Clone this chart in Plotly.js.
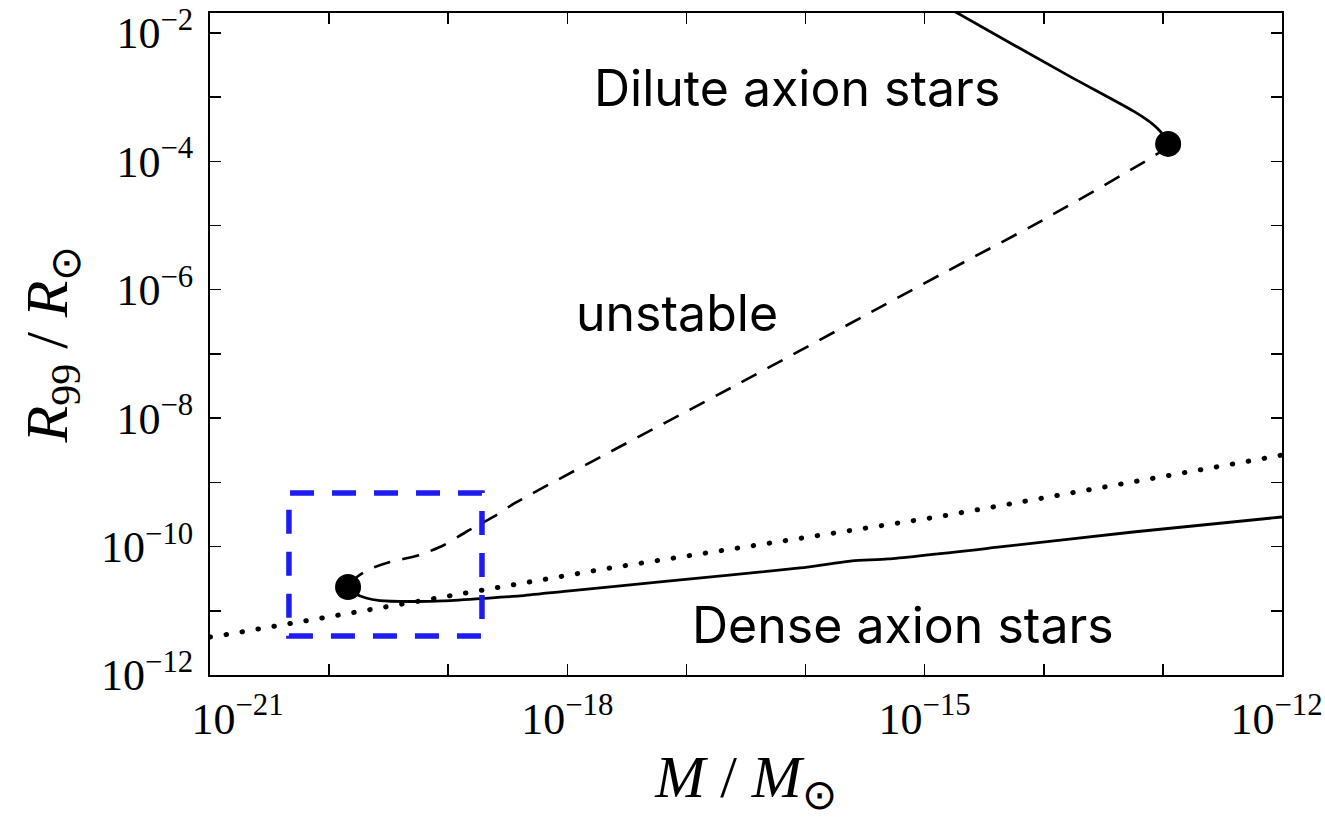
<!DOCTYPE html>
<html>
<head>
<meta charset="utf-8">
<script src="https://cdn.plot.ly/plotly-3.0.1.min.js"></script>
<style>
  html, body { margin: 0; padding: 0; background: #ffffff; }
  #chart { width: 1325px; height: 823px; }
</style>
</head>
<body>
<div id="chart"></div>
<script>
// ---------- data (M / M_sun, R99 / R_sun) ----------
const diluteM = [1.346e-15, 1.871e-15, 1.570e-14, 5.62e-14, 7.36e-14, 8.93e-14, 1.005e-13, 1.107e-13];
const diluteR = [2.897e-2, 2.051e-2, 2.218e-3, 6.10e-4, 4.416e-4, 3.311e-4, 2.576e-4, 1.866e-4];

const unstableM = [1.107e-13, 9.462e-14, 9.863e-15, 1.346e-15, 2.818e-17, 3.64e-19, 2.472e-19, 1.409e-19, 9.23e-20, 5.79e-20, 3.243e-20, 2.203e-20, 1.714e-20, 1.442e-20];
const unstableR = [1.866e-4, 1.400e-4, 1.222e-5, 1.702e-6, 3.532e-8, 4.775e-10, 3.0e-10, 1.687e-10, 1.059e-10, 7.39e-11, 5.754e-11, 4.477e-11, 3.357e-11, 2.350e-11];

const denseM = [1.442e-20, 1.682e-20, 2.042e-20, 2.673e-20, 4.775e-20, 9.036e-20, 1.959e-19, 4.009e-19, 9.93e-19, 5.998e-18, 8.995e-17, 2.455e-16, 4.93e-16, 4.30e-15, 5.62e-14, 1e-12];
const denseR = [2.350e-11, 1.828e-11, 1.581e-11, 1.445e-11, 1.396e-11, 1.422e-11, 1.556e-11, 1.702e-11, 2.032e-11, 2.812e-11, 4.645e-11, 5.970e-11, 6.412e-11, 9.862e-11, 1.687e-10, 2.891e-10];

const dottedM = [1e-21, 1.167e-21, 2.286e-18, 1.271e-15, 8.26e-13, 1e-12];
const dottedR = [3.91e-12, 4.046e-12, 4.645e-11, 2.891e-10, 2.489e-9, 2.673e-9];

const criticalM = [1.442e-20, 1.107e-13];
const criticalR = [2.350e-11, 1.866e-4];

const zoomBoxM = [4.6e-21, 1.92e-19];
const zoomBoxR = [4.05e-12, 6.84e-10];

const NB = '\u00a0';
const xTickVals = [1e-21, 1e-20, 1e-19, 1e-18, 1e-17, 1e-16, 1e-15, 1e-14, 1e-13, 1e-12];
const xTickText = [NB.repeat(5) + '10<sup>\u221221</sup>', '', '', '10<sup>\u221218</sup>', '', '', '10<sup>\u221215</sup>', '', '', '10<sup>\u221212</sup>' + NB.repeat(1)];
const yTickVals = [1e-12, 1e-11, 1e-10, 1e-9, 1e-8, 1e-7, 1e-6, 1e-5, 1e-4, 1e-3, 1e-2];
const yTickText = ['10<sup>\u221212</sup>', '', '10<sup>\u221210</sup>', '', '10<sup>\u22128</sup>', '', '10<sup>\u22126</sup>', '', '10<sup>\u22124</sup>', '', '10<sup>\u22122</sup>'];

const regionLabels = ['Dilute axion stars', 'unstable', 'Dense axion stars'];
const regionLabelM = [8.49e-17, 8.34e-18, 6.59e-16];
const regionLabelR = [1.39e-3, 4.36e-7, 6.01e-12];

// ---------- traces ----------
const traces = [
  { x: dottedM, y: dottedR, mode: 'lines', line: { color: '#000', width: 5, dash: '0.5px,15.7px' }, hoverinfo: 'skip' },
  { x: diluteM, y: diluteR, mode: 'lines', line: { color: '#000', width: 2.8, shape: 'spline', smoothing: 0.6 }, hoverinfo: 'skip' },
  { x: unstableM, y: unstableR, mode: 'lines', line: { color: '#000', width: 2.6, dash: '17px,12.5px', shape: 'spline', smoothing: 0.6 }, hoverinfo: 'skip' },
  { x: denseM, y: denseR, mode: 'lines', line: { color: '#000', width: 2.8, shape: 'spline', smoothing: 0.6 }, hoverinfo: 'skip' },
  { x: criticalM, y: criticalR, mode: 'markers', marker: { color: '#000', size: 26 }, hoverinfo: 'skip' }
];

const serif = 'Liberation Serif, Times New Roman, serif';
const sans = 'Inter, DejaVu Sans, Arial, sans-serif';

const annotations = regionLabels.map((t, i) => ({
  text: t, x: Math.log10(regionLabelM[i]), y: Math.log10(regionLabelR[i]),
  xref: 'x', yref: 'y', showarrow: false, xanchor: 'center', yanchor: 'middle',
  font: { family: sans, size: 50, color: '#000' }
}));

const layout = {
  width: 1325, height: 823,
  margin: { l: 210, r: 43, t: 13, b: 148, pad: 0 },
  paper_bgcolor: '#fff', plot_bgcolor: '#fff',
  showlegend: false,
  xaxis: {
    type: 'log', range: [-21, -12], autorange: false,
    tickvals: xTickVals, ticktext: xTickText,
    ticks: 'inside', ticklen: 11, tickwidth: 1.5, tickcolor: '#000',
    showline: true, linecolor: '#000', linewidth: 2, mirror: 'ticks',
    showgrid: false, zeroline: false,
    tickfont: { family: serif, size: 44, color: '#000' },
    ticklabelstandoff: 4, ticklabeloverflow: 'allow',
    title: { text: '<i>M</i> / <i>M</i><sub>\u2299</sub>', font: { family: serif, size: 60, color: '#000' }, standoff: 12 },
    automargin: false
  },
  yaxis: {
    type: 'log', range: [-12, -1.69], autorange: false,
    tickvals: yTickVals, ticktext: yTickText,
    ticks: 'inside', ticklen: 11, tickwidth: 1.5, tickcolor: '#000',
    showline: true, linecolor: '#000', linewidth: 2, mirror: 'ticks',
    showgrid: false, zeroline: false,
    tickfont: { family: serif, size: 44, color: '#000' },
    ticklabelstandoff: 6, ticklabeloverflow: 'allow',
    title: { text: '<i>R</i><sub>99</sub> / <i>R</i><sub>\u2299</sub>', font: { family: serif, size: 60, color: '#000' }, standoff: 14 },
    automargin: false
  },
  shapes: [{
    type: 'rect', xref: 'x', yref: 'y',
    x0: zoomBoxM[0], x1: zoomBoxM[1], y0: zoomBoxR[0], y1: zoomBoxR[1],
    line: { color: '#1c1cf2', width: 5.5, dash: '24px,18px' }, fillcolor: 'rgba(0,0,0,0)'
  }],
  annotations: annotations
};

Plotly.newPlot('chart', traces, layout, { displayModeBar: false, staticPlot: true }).then(() => {
  const tr = document.querySelectorAll('.scatterlayer .trace');
  if (tr.length) {
    const p = tr[0].querySelector('path.js-line');
    if (p) p.style.strokeLinecap = 'round';
  }
});
</script>
</body>
</html>
